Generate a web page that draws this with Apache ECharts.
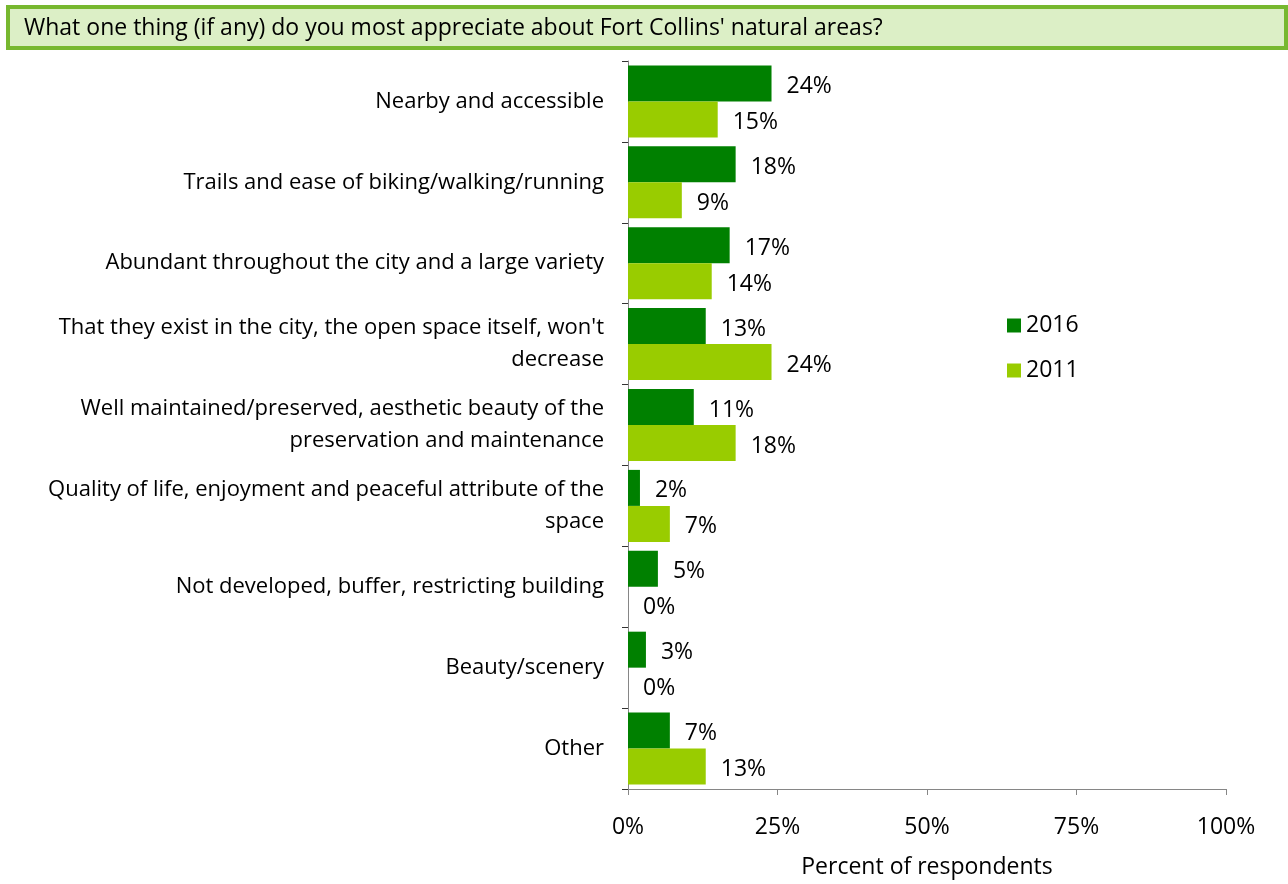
<!DOCTYPE html>
<html>
<head>
<meta charset="utf-8">
<script src="https://cdn.jsdelivr.net/npm/echarts@6/dist/echarts.min.js"></script>
<style>
  html, body { margin: 0; padding: 0; background: #fff; }
  #chart { width: 1288px; height: 884px; }
</style>
</head>
<body>
<div id="chart"></div>
<script>
const titleText = "What one thing (if any) do you most appreciate about Fort Collins' natural areas?"
const categories = [
  'Nearby and accessible',
  'Trails and ease of biking/walking/running',
  'Abundant throughout the city and a large variety',
  "That they exist in the city, the open space itself, won't\ndecrease",
  'Well maintained/preserved, aesthetic beauty of the\npreservation and maintenance',
  'Quality of life, enjoyment and peaceful attribute of the\nspace',
  'Not developed, buffer, restricting building',
  'Beauty/scenery',
  'Other'
]
const values2016 = [24, 18, 17, 13, 11, 2, 5, 3, 7]
const values2011 = [15, 9, 14, 24, 18, 7, 0, 0, 13]
const xTicks = [0, 25, 50, 75, 100]

const font = "'Open Sans', 'Noto Sans', sans-serif"
const dark = '#008000'
const light = '#99cc00'

const chart = echarts.init(document.getElementById('chart'), null, { renderer: 'canvas' })

const labelStyle = {
  show: true,
  position: 'right',
  distance: 15,
  offset: [0, 3],
  formatter: '{c}%',
  color: '#000',
  fontFamily: font,
  fontSize: 23
}

chart.setOption({
  animation: false,
  textStyle: { fontFamily: font },
  graphic: [
    {
      type: 'rect',
      shape: { x: 8, y: 7, width: 1278, height: 41 },
      style: { fill: '#dcefc6', stroke: '#77b82f', lineWidth: 4 }
    },
    {
      type: 'text',
      left: 24,
      top: 17,
      style: { text: titleText, fill: '#000', font: '23px ' + font }
    }
  ],
  legend: {
    orient: 'vertical',
    left: 1002,
    top: 309,
    itemWidth: 14,
    itemHeight: 14,
    itemGap: 22,
    icon: 'rect',
    textStyle: { fontSize: 23, color: '#000', fontFamily: font },
    data: ['2016', '2011']
  },
  grid: { left: 628, right: 62, top: 61, bottom: 92, containLabel: false },
  xAxis: {
    type: 'value',
    min: xTicks[0],
    max: xTicks[xTicks.length - 1],
    interval: 25,
    name: 'Percent of respondents',
    nameLocation: 'middle',
    nameGap: 67,
    nameTextStyle: { fontSize: 23, color: '#000', fontFamily: font },
    axisLine: { show: true, lineStyle: { color: '#868686', width: 1 } },
    axisTick: { show: true, length: 6, lineStyle: { color: '#868686' } },
    axisLabel: { formatter: '{value}%', fontSize: 23, color: '#000', margin: 27, fontFamily: font },
    splitLine: { show: false }
  },
  yAxis: {
    type: 'category',
    inverse: true,
    data: categories,
    axisLine: { show: true, lineStyle: { color: '#868686', width: 1 } },
    axisTick: { show: true, length: 6, lineStyle: { color: '#333' } },
    axisLabel: {
      fontSize: 22,
      color: '#000',
      margin: 24,
      lineHeight: 32,
      align: 'right',
      fontFamily: font
    }
  },
  series: [
    {
      name: '2016',
      type: 'bar',
      data: values2016,
      itemStyle: { color: dark },
      barGap: '0%',
      barCategoryGap: '11%',
      label: labelStyle
    },
    {
      name: '2011',
      type: 'bar',
      data: values2011,
      itemStyle: { color: light },
      barGap: '0%',
      barCategoryGap: '11%',
      label: labelStyle
    }
  ]
})
</script>
</body>
</html>
